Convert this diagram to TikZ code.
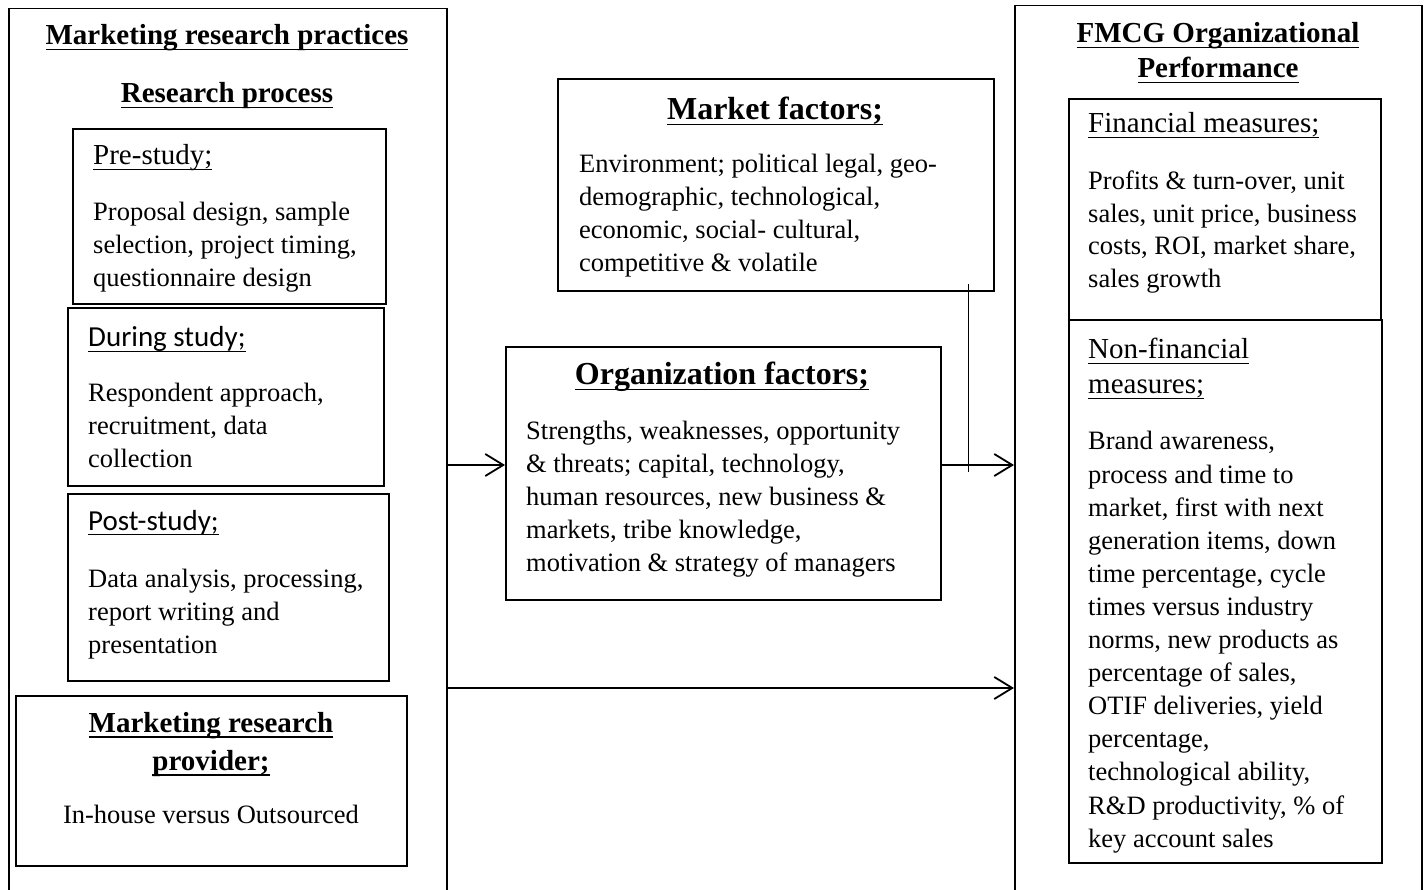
\documentclass[tikz,border=0pt]{standalone}
\usepackage{fontspec}
\setmainfont{Liberation Serif}
\newfontfamily\calfont{Carlito}
\usetikzlibrary{arrows.meta}
\newcommand\myul[3]{\setbox0\hbox{#3}\rlap{\rule[#1]{\wd0}{#2}}\box0}
\newcommand\ulb[1]{\myul{-5.5pt}{1.8pt}{#1}}
\newcommand\ulr[1]{\myul{-5pt}{1.3pt}{#1}}
\newcommand\Lft[1]{\vtop{\halign{##\hfil\cr#1\crcr}}}
\newcommand\Ctr[1]{\vtop{\halign{\hfil##\hfil\cr#1\crcr}}}
\tikzset{
 box/.style={draw, line width=1.8pt, inner sep=0, anchor=north west},
 obox/.style={draw, line width=1.5pt, inner sep=0, anchor=north west},
 body/.style={inner sep=0, font=\fontsize{26.5}{33}\selectfont, anchor=base west},
 bodyc/.style={inner sep=0, font=\fontsize{26.5}{33}\selectfont, anchor=base},
 hb/.style={inner sep=0, font=\bfseries\fontsize{29}{38}\selectfont, anchor=base},
 hbig/.style={inner sep=0, font=\bfseries\fontsize{32}{38}\selectfont, anchor=base},
 sub/.style={inner sep=0, font=\fontsize{29}{35}\selectfont, anchor=base west},
 subc/.style={inner sep=0, font=\calfont\fontsize{29}{35}\selectfont, anchor=base west},
 arr/.style={line width=1.8pt, -{Straight Barb[length=18pt,width=22pt,line width=1.8pt]}},
}
\begin{document}
\begin{tikzpicture}[x=1pt,y=-1pt]
\useasboundingbox (0,0) rectangle (1428,890);
% boxes
\node[obox, minimum width=438pt, minimum height=900pt] (left) at (8,8) {};
\node[box, minimum width=313pt, minimum height=175pt] (pre) at (72,128) {};
\node[box, minimum width=316pt, minimum height=178pt] (during) at (67,307) {};
\node[box, minimum width=321pt, minimum height=187pt] (post) at (67,493) {};
\node[box, minimum width=391pt, minimum height=170pt] (prov) at (15,695) {};
\node[box, minimum width=436pt, minimum height=212pt] (market) at (557,78) {};
\node[box, minimum width=435pt, minimum height=253pt] (org) at (505,346) {};
\node[obox, minimum width=407pt, minimum height=900pt] (fmcg) at (1014,5) {};
\node[box, minimum width=312pt, minimum height=221pt] (fin) at (1068,98) {};
\node[box, minimum width=313pt, minimum height=543pt] (nonfin) at (1068,319) {};
% left texts
\node[hb] (t1) at (227,45) {\ulb{Marketing research practices}};
\node[hb] (t2) at (227,103) {\ulb{Research process}};
\node[sub] (t3) at (93,165) {\ulr{Pre-study;}};
\node[body] (t4) at (93,221) {\Lft{Proposal design, sample\cr selection, project timing,\cr questionnaire design}};
\node[subc] (t5) at (88,347) {\ulr{During study;}};
\node[body] (t6) at (88,402) {\Lft{Respondent approach,\cr recruitment, data\cr collection}};
\node[subc] (t7) at (88,530) {\ulr{Post-study;}};
\node[body] (t8) at (88,587) {\Lft{Data analysis, processing,\cr report writing and\cr presentation}};
\node[hb] (t9) at (211,732) {\Ctr{\ulb{Marketing research}\cr\ulb{provider;}}};
\node[bodyc] (t10) at (211,823) {In-house versus Outsourced};
% middle texts
\node[hbig] (t11) at (775,120) {\ulb{Market factors;}};
\node[body] (t12) at (579,173) {\Lft{Environment; political legal, geo-\cr demographic, technological,\cr economic, social- cultural,\cr competitive \& volatile}};
\node[hbig] (t13) at (722,385) {\ulb{Organization factors;}};
\node[body] (t14) at (526,440) {\Lft{Strengths, weaknesses, opportunity\cr \& threats; capital, technology,\cr human resources, new business \&\cr markets, tribe knowledge,\cr motivation \& strategy of managers}};
% right texts
\node[hb, font=\bfseries\fontsize{29}{35}\selectfont] (t15) at (1218,43) {\Ctr{\ulb{FMCG Organizational}\cr\ulb{Performance}}};
\node[sub] (t16) at (1088,133) {\ulr{Financial measures;}};
\node[body, font=\fontsize{26.5}{32.5}\selectfont] (t17) at (1088,190) {\Lft{Profits \& turn-over, unit\cr sales, unit price, business\cr costs, ROI, market share,\cr sales growth}};
\node[sub] (t18) at (1088,359) {\Lft{\ulr{Non-financial}\cr\ulr{measures;}}};
\node[body, font=\fontsize{26.5}{33.1}\selectfont] (t19) at (1088,450) {\Lft{Brand awareness,\cr process and time to\cr market, first with next\cr generation items, down\cr time percentage, cycle\cr times versus industry\cr norms, new products as\cr percentage of sales,\cr OTIF deliveries, yield\cr percentage,\cr technological ability,\cr R\&D productivity, \% of\cr key account sales}};
% connectors
\coordinate (ya) at (0,465);
\coordinate (yb) at (0,688);
\coordinate (tl) at (968,472);
\draw[arr] (left.east |- ya) -- (org.west |- ya);
\draw[arr] (org.east |- ya) -- (fmcg.west |- ya);
\draw[arr] (left.east |- yb) -- (fmcg.west |- yb);
\draw[line width=1pt] ([yshift=8pt]market.south -| tl) -- (tl);
\end{tikzpicture}
\end{document}
